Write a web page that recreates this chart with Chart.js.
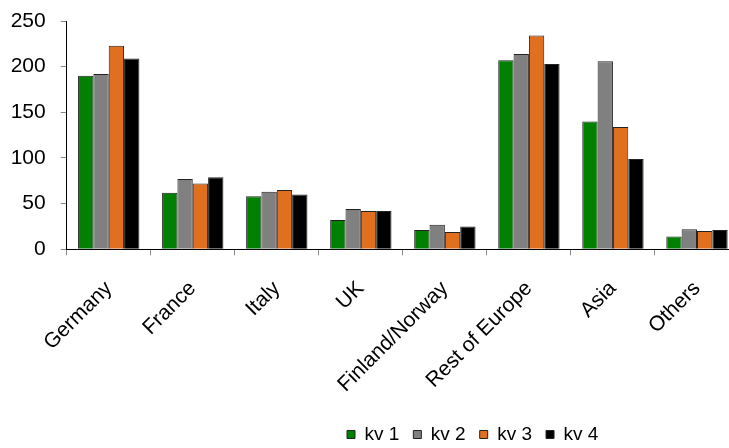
<!DOCTYPE html>
<html>
<head>
<meta charset="utf-8">
<script src="https://cdn.jsdelivr.net/npm/chart.js@4/dist/chart.umd.min.js"></script>
<style>
  html, body { margin: 0; padding: 0; background: #fff; overflow: hidden; }
  #wrap { width: 729px; height: 448px; overflow: hidden; }
</style>
</head>
<body>
<div id="wrap"><canvas id="salesChart" width="745" height="448"></canvas></div>
<script>
// data
const regions = ['Germany', 'France', 'Italy', 'UK', 'Finland/Norway', 'Rest of Europe', 'Asia', 'Others'];
const kv1 = [190, 62, 58, 32, 21, 207, 140, 14];
const kv2 = [192, 77, 63, 44, 27, 214, 206, 22];
const kv3 = [223, 72, 65, 42, 19, 234, 134, 20];
const kv4 = [209, 79, 60, 42, 25, 203, 99, 21];
const yTicks = [0, 50, 100, 150, 200, 250];

const FONT = 'Liberation Sans, Arial, sans-serif';

// legend sits a bit right of center in the original, move it there
const legendShift = {
    id: 'legendShift',
    afterLayout(chart) {
        const lg = chart.legend;
        lg.left = 333;
        lg.right = 745;
        lg.top += 6;
        lg.bottom += 6;
    }
};

function makeSet(label, data, color) {
    return {
        label: label,
        data: data,
        backgroundColor: color,
        borderColor: '#222',
        borderWidth: 1,
        borderSkipped: 'bottom',
        categoryPercentage: 0.73,
        barPercentage: 1.0
    };
}

const ctx = document.getElementById('salesChart').getContext('2d');
const myChart = new Chart(ctx, {
    type: 'bar',
    data: {
        labels: regions,
        datasets: [
            makeSet('kv 1', kv1, '#008000'),
            makeSet('kv 2', kv2, '#808080'),
            makeSet('kv 3', kv3, '#E07020'),
            makeSet('kv 4', kv4, '#000000')
        ]
    },
    options: {
        responsive: false,
        animation: false,
        layout: { padding: { left: 10, right: 6, top: 21, bottom: 0 } },
        plugins: {
            legend: {
                position: 'bottom',
                align: 'start',
                labels: {
                    color: '#000',
                    font: { family: FONT, size: 19 },
                    boxWidth: 8,
                    boxHeight: 8,
                    padding: 14
                }
            },
            tooltip: { enabled: false }
        },
        scales: {
            x: {
                afterFit: (scale) => { scale.height = 155.7; scale.paddingLeft = 0; },
                border: { display: true, color: '#000', width: 1 },
                grid: { display: true, drawOnChartArea: false, offset: true, tickLength: 6, color: '#888' },
                ticks: { color: '#000', font: { family: FONT, size: 21 }, minRotation: 45, maxRotation: 45, padding: 21 }
            },
            y: {
                min: 0,
                max: 250,
                afterBuildTicks: (scale) => { scale.ticks = yTicks.map(v => ({ value: v })); },
                afterFit: (scale) => { scale.width = 56.7; scale.paddingTop = 0; },
                border: { display: true, color: '#000', width: 1 },
                grid: { display: true, drawOnChartArea: false, tickLength: 6, color: '#888' },
                ticks: { color: '#000', font: { family: FONT, size: 21 }, padding: 15 }
            }
        }
    },
    plugins: [legendShift]
});
</script>
</body>
</html>
